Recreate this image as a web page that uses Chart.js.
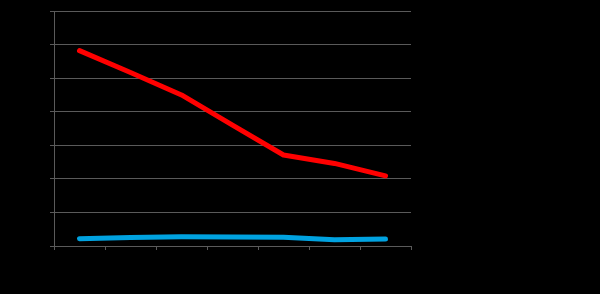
<!DOCTYPE html>
<html>
<head>
<meta charset="utf-8">
<script src="https://cdn.jsdelivr.net/npm/chart.js@4/dist/chart.umd.min.js"></script>
<style>
  html, body { margin: 0; padding: 0; background: #000; }
  #wrap { width: 600px; height: 294px; }
</style>
</head>
<body>
<div id="wrap"><canvas id="chart"></canvas></div>
<script>
// categories have no visible labels in the source
const categories = ["1", "2", "3", "4", "5", "6", "7"];
const redValues = [58.2, 51.7, 45.0, 36.0, 27.1, 24.6, 20.9];
const blueValues = [2.15, 2.5, 2.75, 2.7, 2.6, 1.85, 2.1];
const yMin = 0, yMax = 70, yStep = 10;

const gridColor = "#5a5a5a";

new Chart(document.getElementById("chart"), {
    type: "line",
    data: {
        labels: categories,
        datasets: [
            {
                label: "blue",
                data: blueValues,
                borderColor: "#00a2e0",
                borderWidth: 5,
                pointRadius: 0,
                tension: 0,
                borderCapStyle: "round",
                borderJoinStyle: "round"
            },
            {
                label: "red",
                data: redValues,
                borderColor: "#ff0000",
                borderWidth: 5,
                pointRadius: 0,
                tension: 0,
                borderCapStyle: "round",
                borderJoinStyle: "round"
            }
        ]
    },
    options: {
        responsive: true,
        maintainAspectRatio: false,
        animation: false,
        layout: { padding: { left: 50, right: 189, top: 11, bottom: 44 } },
        plugins: {
            legend: { display: false },
            tooltip: { enabled: false }
        },
        scales: {
            x: {
                offset: true,
                grid: {
                    offset: true,
                    drawOnChartArea: false,
                    color: gridColor,
                    tickLength: 4
                },
                border: { color: gridColor, width: 1 },
                ticks: { display: false }
            },
            y: {
                min: yMin,
                max: yMax,
                grid: { color: gridColor, tickLength: 4 },
                border: { color: gridColor, width: 1 },
                ticks: { display: false, stepSize: yStep }
            }
        }
    }
});
</script>
</body>
</html>
